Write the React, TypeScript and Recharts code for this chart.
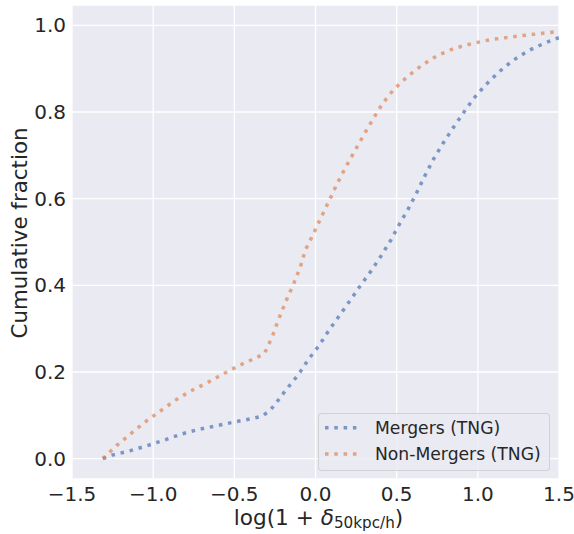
import React from 'react';
import { LineChart, Line, XAxis, YAxis, CartesianGrid, Legend, Label } from 'recharts';

// Cumulative distribution of local overdensity log(1 + δ_50kpc/h)
const mergersX = [
  -1.31, -1.253, -1.144, -1.037, -0.93, -0.824, -0.715, -0.606, -0.495, -0.384,
  -0.329, -0.284, -0.247, -0.214, -0.179, -0.144, -0.11, -0.076, -0.046, -0.011,
  0.022, 0.084, 0.149, 0.215, 0.276, 0.344, 0.406, 0.465, 0.518, 0.574,
  0.626, 0.677, 0.728, 0.786, 0.847, 0.909, 0.974, 1.046, 1.128, 1.212,
  1.309, 1.405, 1.5,
];
const mergersY = [
  0.0, 0.008, 0.018, 0.03, 0.043, 0.057, 0.068, 0.076, 0.085, 0.093,
  0.098, 0.11, 0.126, 0.143, 0.16, 0.176, 0.192, 0.21, 0.228, 0.245,
  0.261, 0.297, 0.331, 0.366, 0.399, 0.434, 0.469, 0.505, 0.542, 0.578,
  0.616, 0.655, 0.692, 0.728, 0.763, 0.797, 0.831, 0.862, 0.892, 0.918,
  0.941, 0.958, 0.972,
];

const nonMergersX = [
  -1.31, -1.226, -1.14, -1.052, -0.959, -0.867, -0.77, -0.668, -0.567, -0.469,
  -0.366, -0.315, -0.267, -0.229, -0.185, -0.135, -0.093, -0.062, -0.011, 0.036,
  0.086, 0.135, 0.188, 0.239, 0.297, 0.355, 0.414, 0.482, 0.564, 0.656,
  0.749, 0.855, 0.964, 1.077, 1.241, 1.5,
];
const nonMergersY = [
  0.0, 0.03, 0.057, 0.084, 0.109, 0.134, 0.156, 0.175, 0.196, 0.215,
  0.233, 0.242, 0.281, 0.32, 0.361, 0.403, 0.443, 0.482, 0.52, 0.558,
  0.597, 0.636, 0.674, 0.708, 0.747, 0.784, 0.82, 0.852, 0.881, 0.908,
  0.93, 0.947, 0.958, 0.967, 0.975, 0.986,
];

const xTicks = [-1.5, -1.0, -0.5, 0.0, 0.5, 1.0, 1.5];
const yTicks = [0.0, 0.2, 0.4, 0.6, 0.8, 1.0];

const seriesNames = ['Mergers (TNG)', 'Non-Mergers (TNG)'];
const seriesColors = ['#4C72B0', '#DD8452'];

const mergers = mergersX.map((x, i) => ({ x, y: mergersY[i] }));
const nonMergers = nonMergersX.map((x, i) => ({ x, y: nonMergersY[i] }));

const FONT = '"DejaVu Sans", sans-serif';
const TEXT = '#262626';
const DASH = '3.5 5.8';

const fmt = (v: number) => (v < 0 ? '\u2212' : '') + Math.abs(v).toFixed(1);

function XTitle(props: any) {
  const vb = props.viewBox || { x: 72, y: 479, width: 487, height: 55 };
  const cx = vb.x + vb.width / 2 + 3;
  const by = vb.y + 46;
  return (
    <text x={cx} y={by} textAnchor="middle" fontFamily={FONT} fontSize={21.6} fill={TEXT}>
      <tspan>log(1 + </tspan>
      <tspan fontStyle="italic">δ</tspan>
      <tspan fontSize={15.2} dy={3}>50kpc/h</tspan>
      <tspan dy={-3}>)</tspan>
    </text>
  );
}

function YTitle(props: any) {
  const vb = props.viewBox || { x: 0, y: 5, width: 72, height: 474 };
  const cy = vb.y + vb.height / 2 - 9;
  return (
    <text
      transform={`translate(26.5,${cy}) rotate(-90)`}
      textAnchor="middle"
      fontFamily={FONT}
      fontSize={21.4}
      fill={TEXT}
    >
      Cumulative fraction
    </text>
  );
}

function LegendBox(props: any) {
  const payload = props.payload || [];
  return (
    <div
      style={{
        width: 232,
        height: 58,
        boxSizing: 'border-box',
        border: '1px solid rgba(204,204,204,0.8)',
        borderRadius: 4,
        background: 'rgba(234,234,242,0.8)',
      }}
    >
      <svg width={230} height={56} style={{ display: 'block' }}>
        {payload.map((e: any, i: number) => (
          <g key={i}>
            <line
              x1={6}
              x2={38}
              y1={13.7 + i * 26.3}
              y2={13.7 + i * 26.3}
              stroke={e.color}
              strokeOpacity={0.7}
              strokeWidth={3.5}
              strokeDasharray={DASH}
            />
            <text x={56} y={20 + i * 26.3} fontFamily={FONT} fontSize={17.2} fill={TEXT}>
              {e.value}
            </text>
          </g>
        ))}
      </svg>
    </div>
  );
}

export default function App() {
  return (
    <div style={{ position: 'absolute', left: 0, top: 0, width: 574, height: 534 }}>
      <LineChart width={574} height={534} margin={{ top: 5, right: 15, bottom: 0, left: 0 }}>
        <CartesianGrid fill="#EAEAF2" stroke="#FFFFFF" strokeWidth={1.3} />
        <XAxis
          dataKey="x"
          type="number"
          domain={[-1.5, 1.5]}
          ticks={xTicks}
          interval={0}
          allowDataOverflow
          axisLine={false}
          tickLine={false}
          tickSize={0}
          tickMargin={8}
          height={55}
          tickFormatter={fmt}
          tick={{ fontSize: 20, fill: TEXT, fontFamily: FONT }}
        >
          <Label content={XTitle} />
        </XAxis>
        <YAxis
          dataKey="y"
          type="number"
          domain={[-0.047, 1.047]}
          ticks={yTicks}
          interval={0}
          allowDataOverflow
          axisLine={false}
          tickLine={false}
          tickSize={0}
          tickMargin={6}
          width={72}
          tickFormatter={fmt}
          tick={{ fontSize: 20, fill: TEXT, fontFamily: FONT }}
        >
          <Label content={YTitle} />
        </YAxis>
        <Line
          data={mergers}
          dataKey="y"
          name={seriesNames[0]}
          type="linear"
          stroke={seriesColors[0]}
          strokeOpacity={0.7}
          strokeWidth={3.5}
          strokeDasharray={DASH}
          dot={false}
          activeDot={false}
          isAnimationActive={false}
        />
        <Line
          data={nonMergers}
          dataKey="y"
          name={seriesNames[1]}
          type="linear"
          stroke={seriesColors[1]}
          strokeOpacity={0.7}
          strokeWidth={3.5}
          strokeDasharray={DASH}
          dot={false}
          activeDot={false}
          isAnimationActive={false}
        />
        <Legend
          layout="horizontal"
          verticalAlign="middle"
          align="center"
          content={LegendBox}
          wrapperStyle={{ left: 318, top: 413, width: 232, height: 58 }}
        />
      </LineChart>
    </div>
  );
}
